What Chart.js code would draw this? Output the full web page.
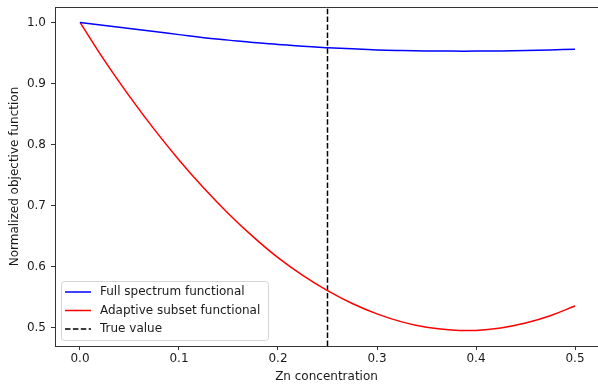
<!DOCTYPE html>
<html>
<head>
<meta charset="utf-8">
<script src="https://cdn.jsdelivr.net/npm/chart.js@4/dist/chart.umd.min.js"></script>
<style>
  html, body { margin: 0; padding: 0; background: #fff; overflow: hidden; }
  #chart { display: block; }
</style>
</head>
<body>
<canvas id="chart" width="598" height="387"></canvas>
<script>
'use strict';

// values
let zn = [0, 0.025, 0.05, 0.075, 0.1, 0.125, 0.15, 0.175, 0.2, 0.225, 0.25,
  0.275, 0.3, 0.325, 0.35, 0.375, 0.4, 0.425, 0.45, 0.475, 0.5];
let fullSpectrum = [1.0, 0.995, 0.990, 0.985, 0.980, 0.975, 0.971, 0.967, 0.964, 0.961, 0.9587,
  0.9567, 0.955, 0.954, 0.9533, 0.953, 0.953, 0.9533, 0.954, 0.955, 0.956];
let adaptiveSubset = [1.0, 0.937, 0.879, 0.825, 0.775, 0.729, 0.687, 0.649, 0.615, 0.586, 0.561,
  0.540, 0.523, 0.510, 0.501, 0.4966, 0.496, 0.500, 0.508, 0.520, 0.536];
let trueValue = 0.25;
let xTicks = [0, 0.1, 0.2, 0.3, 0.4, 0.5];
let yTicks = [0.5, 0.6, 0.7, 0.8, 0.9, 1.0];
// the right edge of the axes is cut off by the picture
let xMin = -0.02525, xMax = 0.52323;
let yMin = 0.4705, yMax = 1.0252;

let font = { family: 'DejaVu Sans', size: 12 };
let textColor = '#1a1a1a';
let axisColor = '#333';

function points(ys){
  let out = [];
  for (let i = 0; i < zn.length; i++){
    out.push({ x: zn[i], y: ys[i] });
  }
  return out;
}

// matplotlib style legend inside the plot, lower left
let boxLegend = {
  id: 'boxLegend',
  afterDatasetsDraw(chart){
    let ctx = chart.ctx;
    let area = chart.chartArea;
    let left = area.left + 6, w = 207, h = 59;
    let top = area.bottom - 6 - h;
    ctx.save();
    ctx.beginPath();
    ctx.roundRect(left + 0.5, top + 0.5, w, h, 3);
    ctx.fillStyle = 'rgba(255,255,255,0.8)';
    ctx.fill();
    ctx.strokeStyle = '#d5d5d5';
    ctx.lineWidth = 1;
    ctx.stroke();
    ctx.font = '12px "DejaVu Sans"';
    ctx.textBaseline = 'middle';
    ctx.textAlign = 'left';
    chart.data.datasets.forEach((ds, i) => {
      let y = top + 11 + i * 18.5;
      ctx.beginPath();
      ctx.setLineDash(ds.borderDash || []);
      ctx.strokeStyle = ds.borderColor;
      ctx.lineWidth = ds.borderWidth;
      ctx.moveTo(left + 4, y);
      ctx.lineTo(left + 30, y);
      ctx.stroke();
      ctx.setLineDash([]);
      ctx.fillStyle = textColor;
      ctx.fillText(ds.label, left + 39, y);
    });
    ctx.restore();
  }
};

// top spine
let frame = {
  id: 'frame',
  afterDraw(chart){
    let ctx = chart.ctx;
    let a = chart.chartArea;
    let y = Math.round(a.top) + 0.5;
    ctx.save();
    ctx.strokeStyle = axisColor;
    ctx.lineWidth = 1;
    ctx.beginPath();
    ctx.moveTo(a.left, y);
    ctx.lineTo(a.right, y);
    ctx.stroke();
    ctx.restore();
  }
};

let ctx = document.getElementById('chart').getContext('2d');

let chart = new Chart(ctx, {
  type: 'line',
  data: {
    datasets: [
      {
        label: 'Full spectrum functional',
        data: points(fullSpectrum),
        borderColor: '#0000ff',
        borderWidth: 1.5,
        pointRadius: 0,
        tension: 0.4
      },
      {
        label: 'Adaptive subset functional',
        data: points(adaptiveSubset),
        borderColor: '#ff0000',
        borderWidth: 1.5,
        pointRadius: 0,
        tension: 0.4
      },
      {
        label: 'True value',
        data: [{ x: trueValue, y: yMin }, { x: trueValue, y: yMax }],
        borderColor: '#000000',
        borderWidth: 1.5,
        borderDash: [5.5, 2.4],
        pointRadius: 0
      }
    ]
  },
  options: {
    responsive: false,
    animation: false,
    layout: { padding: { top: 7, right: 0, bottom: 0, left: 0 } },
    plugins: {
      legend: { display: false },
      tooltip: { enabled: false }
    },
    scales: {
      x: {
        type: 'linear',
        min: xMin,
        max: xMax,
        afterBuildTicks: (s) => { s.ticks = xTicks.map(v => ({ value: v })); },
        afterFit: (s) => { s.height = 41; s.paddingLeft = 0; s.paddingRight = 0; },
        grid: { drawOnChartArea: false, drawTicks: true, tickLength: 4, color: axisColor },
        border: { color: axisColor },
        ticks: {
          font: font,
          color: textColor,
          padding: 2,
          maxRotation: 0,
          callback: (v) => v.toFixed(1)
        },
        title: {
          display: true,
          text: 'Zn concentration',
          font: font,
          color: textColor,
          padding: { top: 0, bottom: 3 }
        }
      },
      y: {
        type: 'linear',
        min: yMin,
        max: yMax,
        afterBuildTicks: (s) => { s.ticks = yTicks.map(v => ({ value: v })); },
        afterFit: (s) => { s.width = 55; s.paddingTop = 0; s.paddingBottom = 0; },
        grid: { drawOnChartArea: false, drawTicks: true, tickLength: 4, color: axisColor },
        border: { color: axisColor },
        ticks: {
          font: font,
          color: textColor,
          padding: 5,
          callback: (v) => v.toFixed(1)
        },
        title: {
          display: true,
          text: 'Normalized objective function',
          font: font,
          color: textColor,
          padding: { top: 8, bottom: 0 }
        }
      }
    }
  },
  plugins: [boxLegend, frame]
});
</script>
</body>
</html>
